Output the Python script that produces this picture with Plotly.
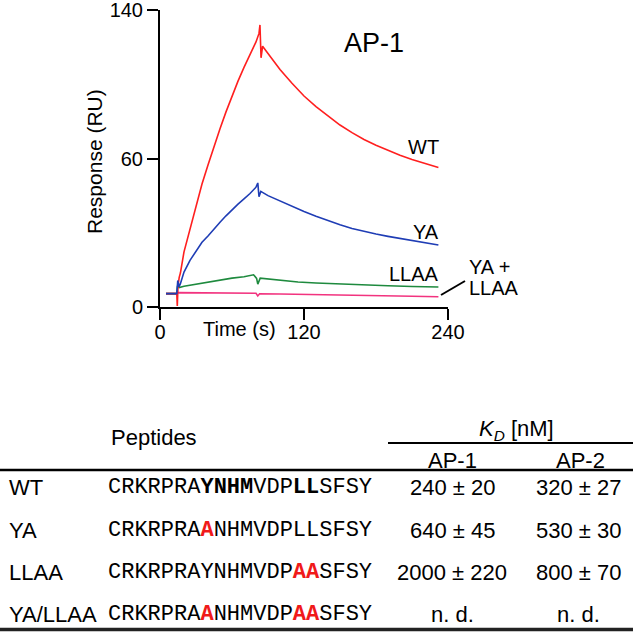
import plotly.graph_objects as go

# ---------------- data ----------------
time_wt = [5, 10, 14, 14.4, 15, 16, 17, 20, 25, 30, 35, 40, 45, 50, 55, 60, 65, 70, 75, 80,
           82.5, 83.3, 84.2, 85.5, 90, 100, 110, 120, 130, 140, 150, 160, 170, 180, 190,
           200, 210, 220, 232]
resp_wt = [6.3, 6.3, 6.3, 0.5, 10, 14, 16, 26, 37, 48, 58, 67, 76, 84, 92, 99.5, 106.5, 113, 119, 125,
           129, 133, 117.5, 123, 119.5, 112, 105.5, 99.5, 94.5, 90, 85.8, 82.2, 79, 76.3, 73.8,
           71.6, 69.6, 67.8, 65.8]

time_ya = [5, 10, 14, 14.8, 15.8, 17, 20, 25, 30, 35, 40, 45, 50, 55, 60, 65, 70, 75, 80, 81.5,
           82.5, 84, 90, 100, 110, 120, 130, 140, 150, 160, 170, 180, 190, 200, 210, 220, 232]
resp_ya = [6.3, 6.3, 6.3, 12.5, 9.5, 11, 16.5, 22, 26.5, 30.5, 33.5, 37, 40, 43, 46, 48.5, 51, 53.5, 56.5, 58.5,
           52, 54.5, 52.5, 50, 47.3, 45, 42.8, 40.7, 38.8, 37, 35.6, 34.4, 33.3, 32.3, 31.2, 30.2, 29.2]

time_llaa = [5, 10, 14, 14.6, 16, 20, 30, 40, 50, 60, 70, 78, 80.5, 81.5, 83.5, 90, 100, 115, 130,
             150, 170, 190, 210, 232]
resp_llaa = [6.3, 6.3, 6.3, 10, 9.2, 9.8, 10.8, 11.8, 12.8, 13.6, 14.3, 15.2, 13.5, 10.8, 13.6, 13.2, 12.6, 11.8, 11.3,
             10.8, 10.3, 10, 9.7, 9.4]

time_yallaa = [5, 10, 14, 15, 30, 50, 70, 80, 81.5, 83, 100, 130, 160, 190, 210, 232]
resp_yallaa = [6.3, 6.3, 6.3, 6.8, 6.7, 6.7, 6.6, 6.5, 5.2, 6.2, 6.1, 5.9, 5.6, 5.3, 5.1, 4.8]

x_tickvals = [0, 120, 240]
y_tickvals = [0, 70, 140]
y_ticktext = ["0", "60", "140"]

curve_labels = ["WT", "YA", "LLAA"]

row_names = ["WT", "YA", "LLAA", "YA/LLAA"]
peptides = ["CRKRPRAYNHMVDPLLSFSY", "CRKRPRAANHMVDPLLSFSY",
            "CRKRPRAYNHMVDPAASFSY", "CRKRPRAANHMVDPAASFSY"]
bold_pos = [[7, 8, 9, 10, 14, 15], [], [], []]
red_pos = [[], [7], [14, 15], [7, 14, 15]]
kd_ap1 = ["240 ± 20", "640 ± 45", "2000 ± 220", "n. d."]
kd_ap2 = ["320 ± 27", "530 ± 30", "800 ± 70", "n. d."]

# ---------------- figure ----------------
W, H = 633, 637
SANS = "Liberation Sans, Arial, Helvetica, sans-serif"
MONO = "Courier New, Courier, Nimbus Mono PS, FreeMono, Liberation Mono, monospace"


def px(x):
    return x / W


def py(y):
    return 1 - y / H


fig = go.Figure()
series = [
    (time_yallaa, resp_yallaa, "#F2337F"),
    (time_llaa, resp_llaa, "#1E8A3E"),
    (time_wt, resp_wt, "#FF1F1F"),
    (time_ya, resp_ya, "#1F3DB5"),
]
for t, v, c in series:
    fig.add_trace(go.Scatter(x=t, y=v, mode="lines", line=dict(color=c, width=1.6),
                             showlegend=False, hoverinfo="skip"))

ann = []
# chart texts
ann.append(dict(text="AP-1", x=px(374), y=py(43), font=dict(size=27)))
ann.append(dict(text="Response (RU)", x=px(94), y=py(161), textangle=-90, font=dict(size=21)))
ann.append(dict(text="Time (s)", x=px(240), y=py(329), font=dict(size=20)))
for lab, yy in zip(curve_labels, [147, 232, 274]):
    ann.append(dict(text=lab, x=px(441), y=py(yy), xanchor="right", font=dict(size=20)))
ann.append(dict(text="YA +", x=px(467), y=py(267), xanchor="left", font=dict(size=20)))
ann.append(dict(text="LLAA", x=px(467), y=py(288), xanchor="left", font=dict(size=20)))

# table header
ann.append(dict(text="Peptides", x=px(154), y=py(437), font=dict(size=22)))
ann.append(dict(text="<i>K</i><sub><i>D</i></sub> [nM]", x=px(516), y=py(430), font=dict(size=22)))
ann.append(dict(text="AP-1", x=px(452), y=py(460), font=dict(size=22)))
ann.append(dict(text="AP-2", x=px(580), y=py(460), font=dict(size=22)))

row_y = [487, 530, 572, 614]
for i, name in enumerate(row_names):
    y = py(row_y[i])
    ann.append(dict(text=name, x=px(7), y=y, xanchor="left", font=dict(size=22)))
    parts = []
    for j, ch in enumerate(peptides[i]):
        if j in red_pos[i]:
            parts.append("<b><span style='color:#F01A1A'>%s</span></b>" % ch)
        elif j in bold_pos[i]:
            parts.append("<b>%s</b>" % ch)
        else:
            parts.append(ch)
    ann.append(dict(text="".join(parts), x=px(106), y=y, xanchor="left",
                    font=dict(size=22, family=MONO)))
    ann.append(dict(text=kd_ap1[i], x=px(452), y=y, font=dict(size=22)))
    ann.append(dict(text=kd_ap2[i], x=px(578), y=y, font=dict(size=22)))

for a in ann:
    a.setdefault("xref", "paper")
    a.setdefault("yref", "paper")
    a.setdefault("showarrow", False)
    a.setdefault("xanchor", "center")
    a.setdefault("yanchor", "middle")
    f = a["font"]
    f.setdefault("family", SANS)
    f.setdefault("color", "black")

shapes = [
    dict(type="line", xref="paper", yref="paper", x0=px(441), y0=py(295), x1=px(465), y1=py(281),
         line=dict(color="black", width=2)),
    dict(type="line", xref="paper", yref="paper", x0=px(388), y0=py(443), x1=px(633), y1=py(443),
         line=dict(color="black", width=2)),
    dict(type="line", xref="paper", yref="paper", x0=0, y0=py(470), x1=1, y1=py(470),
         line=dict(color="black", width=2.5)),
    dict(type="line", xref="paper", yref="paper", x0=0, y0=py(629.5), x1=1, y1=py(629.5),
         line=dict(color="#222", width=3.5)),
]

fig.update_layout(
    width=W, height=H, autosize=False,
    margin=dict(l=0, r=0, t=0, b=0, pad=0),
    paper_bgcolor="white", plot_bgcolor="white",
    annotations=ann, shapes=shapes,
    xaxis=dict(domain=[px(160), px(448)], range=[0, 240], tickvals=x_tickvals,
               showline=True, linecolor="black", linewidth=2, ticks="outside", ticklen=11,
               tickwidth=2, tickcolor="black", showgrid=False, zeroline=False, automargin=False,
               ticklabelstandoff=-5, ticklabeloverflow="allow",
               tickfont=dict(family=SANS, size=20, color="black")),
    yaxis=dict(domain=[py(307), py(10)], range=[0, 140.05], tickvals=y_tickvals, ticktext=y_ticktext,
               showline=True, linecolor="black", linewidth=2, ticks="outside", ticklen=11,
               tickwidth=2, tickcolor="black", showgrid=False, zeroline=False, automargin=False,
               ticklabeloverflow="allow",
               tickfont=dict(family=SANS, size=20, color="black")),
)

fig.write_html("out.html", include_plotlyjs=True, config={"displayModeBar": False},
               post_script="document.body.style.margin='0';document.body.style.padding='0';"
                           "document.documentElement.style.overflow='hidden';")
